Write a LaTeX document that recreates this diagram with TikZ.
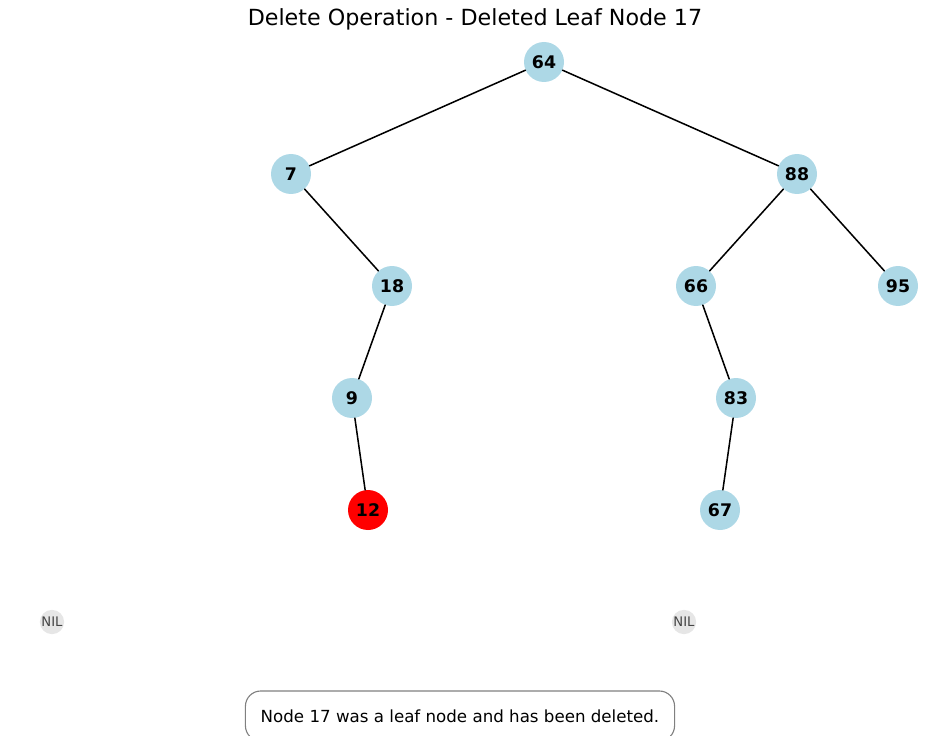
\documentclass[tikz,border=0pt]{standalone}
\usepackage{fontspec}
\setmainfont{DejaVu Sans}
\definecolor{nodeblue}{HTML}{ADD8E6}
\definecolor{nilgray}{HTML}{E6E6E6}
\definecolor{niltext}{HTML}{444444}
\begin{document}
\begin{tikzpicture}[x=0.72pt,y=-0.72pt, line join=round, line cap=round,
	tnode/.style={circle, fill=nodeblue, minimum size=28.8pt, inner sep=0pt, font=\bfseries\fontsize{12.5}{14}\selectfont},
	delnode/.style={tnode, fill=red},
	nilnode/.style={circle, fill=nilgray, minimum size=17.5pt, inner sep=0pt, text=niltext, font=\fontsize{9.5}{11}\selectfont},
	edge/.style={line width=1.1pt}]
	\useasboundingbox (0,0) rectangle (950,736);
	\clip (0,0) rectangle (950,736);
	\node[font=\fontsize{16}{19}\selectfont] (title) at (475,19) {Delete Operation - Deleted Leaf Node 17};
	% tree nodes
	\node[tnode] (n64) at (544,62) {64};
	\node[tnode] (n7) at (291,174) {7};
	\node[tnode] (n88) at (797,174) {88};
	\node[tnode] (n18) at (392,286) {18};
	\node[tnode] (n66) at (696,286) {66};
	\node[tnode] (n95) at (898,286) {95};
	\node[tnode] (n9) at (352,398) {9};
	\node[tnode] (n83) at (736,398) {83};
	\node[delnode] (n12) at (368,510) {12};
	\node[tnode] (n67) at (720,510) {67};
	\node[nilnode] (nilA) at (52,622) {NIL};
	\node[nilnode] (nilB) at (684,622) {NIL};
	% edges
	\draw[edge] (n64)--(n7) (n64)--(n88);
	\draw[edge] (n7)--(n18) (n18)--(n9) (n9)--(n12);
	\draw[edge] (n88)--(n66) (n88)--(n95) (n66)--(n83) (n83)--(n67);
	% message box
	\node[draw=gray, line width=0.8pt, rounded corners=11pt, fill=white, minimum width=309pt, minimum height=36pt, font=\fontsize{12}{14}\selectfont] (msg) at (460,716) {Node 17 was a leaf node and has been deleted.};
\end{tikzpicture}
\end{document}
